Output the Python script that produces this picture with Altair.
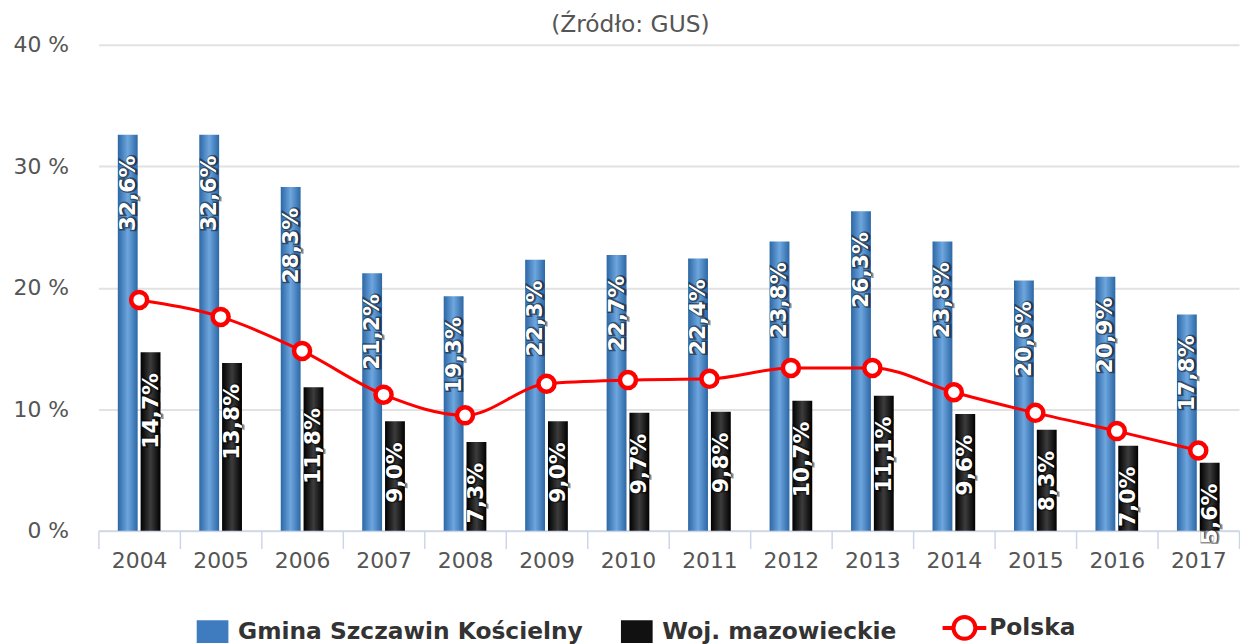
import altair as alt
import pandas as pd

years = [str(y) for y in range(2004, 2018)]
gmina = [32.6, 32.6, 28.3, 21.2, 19.3, 22.3, 22.7, 22.4, 23.8, 26.3, 23.8, 20.6, 20.9, 17.8]
woj = [14.7, 13.8, 11.8, 9.0, 7.3, 9.0, 9.7, 9.8, 10.7, 11.1, 9.6, 8.3, 7.0, 5.6]
polska = [19.0, 17.6, 14.8, 11.2, 9.5, 12.1, 12.4, 12.5, 13.4, 13.4, 11.4, 9.7, 8.2, 6.6]
y_ticks = [0, 10, 20, 30, 40]

S_G = "Gmina Szczawin Kościelny"
S_W = "Woj. mazowieckie"
S_P = "Polska"
series_names = [S_G, S_W, S_P]
series_colors = ["#3f7cbf", "#111111", "#ff0000"]

rows = []
for i, yr in enumerate(years):
    rows.append({"year": yr, "series": S_G, "value": gmina[i]})
    rows.append({"year": yr, "series": S_W, "value": woj[i]})
bars_df = pd.DataFrame(rows)
line_df = pd.DataFrame({"year": years, "series": S_P, "value": polska})

FONT = "DejaVu Sans"

x_enc = alt.X(
    "year:N", sort=years, title=None,
    scale=alt.Scale(paddingInner=0, paddingOuter=0),
    axis=alt.Axis(labelAngle=0, tickBand="extent", grid=False,
                  domainColor="#ccd6eb", tickColor="#ccd6eb", tickSize=18,
                  tickWidth=1.5, domainWidth=1.5, labelPadding=2,
                  labelFont=FONT, labelFontSize=22, labelColor="#555555"),
)
y_enc = alt.Y(
    "value:Q", title=None,
    scale=alt.Scale(domain=[0, 40], nice=False),
    axis=alt.Axis(values=y_ticks, labelExpr="datum.value + ' %'", domain=False,
                  ticks=False, labelPadding=30, grid=True, gridColor="#e2e2e2",
                  gridWidth=2, labelFont=FONT, labelFontSize=22, labelColor="#555555"),
)
xoff = alt.XOffset("series:N", scale=alt.Scale(domain=[S_G, S_W], paddingInner=0.13, paddingOuter=0.85))


def grad(edge, mid):
    return alt.LinearGradient(
        gradient="linear", x1=0, x2=1, y1=0, y2=0,
        stops=[alt.GradientStop(color=edge, offset=0),
               alt.GradientStop(color=mid, offset=0.5),
               alt.GradientStop(color=edge, offset=1)],
    )


base = alt.Chart(bars_df)

blue = base.transform_filter(alt.datum.series == S_G).mark_bar(
    fill=grad("#2c67a5", "#6ea6de")).encode(x=x_enc, y=y_enc, xOffset=xoff)
black = base.transform_filter(alt.datum.series == S_W).mark_bar(
    fill=grad("#000000", "#3c3c3c")).encode(x=x_enc, y=y_enc, xOffset=xoff)

lab = base.transform_calculate(
    label="replace(format(datum.value, '.1f'), '.', ',') + '%'"
)
lab_shadow = lab.mark_text(
    angle=270, align="right", baseline="middle", dx=-21, dy=1,
    font=FONT, fontSize=22, fontWeight="bold", fill="#000000",
    stroke="#000000", strokeWidth=3, strokeOpacity=0.45, fillOpacity=0.6,
).encode(x=x_enc, y=y_enc, xOffset=xoff, text="label:N")
lab_text = lab.mark_text(
    angle=270, align="right", baseline="middle", dx=-21,
    font=FONT, fontSize=22, fontWeight="bold", fill="#ffffff",
).encode(x=x_enc, y=y_enc, xOffset=xoff, text="label:N")

rect_path = "M-0.81,-0.52 L0.64,-0.52 L0.64,0.52 L-0.81,0.52 Z"
pol_path = ("M-1.05,0 L-0.55,0 M0.45,0 L0.95,0 "
            "M-0.55,0 A0.5,0.5 0 1 1 0.45,0 A0.5,0.5 0 1 1 -0.55,0 Z")

legend = alt.Legend(
    title=None, orient="none", legendX=105, legendY=575, direction="horizontal",
    columns=3, columnPadding=37, labelFont=FONT, labelFontSize=23.5,
    labelFontWeight="bold", labelColor="#333333", labelOffset=12, labelLimit=600,
    symbolSize=1936,
    symbolType={"expr": f"datum.value == 'Polska' ? '{pol_path}' : '{rect_path}'"},
    symbolFillColor={"expr": "datum.value == 'Polska' ? '#ffffff' : scale('color', datum.value)"},
    symbolStrokeWidth={"expr": "datum.value == 'Polska' ? 4 : 0"},
    symbolOpacity=1,
)

line = alt.Chart(line_df).mark_line(interpolate="monotone", strokeWidth=3).encode(
    x=x_enc, y=y_enc,
    color=alt.Color("series:N", scale=alt.Scale(domain=series_names, range=series_colors),
                    legend=legend),
)
points = alt.Chart(line_df).mark_point(
    filled=True, fill="#ffffff", stroke="#ff0000", strokeWidth=4.5, size=260, opacity=1
).encode(x=x_enc, y=y_enc)

chart = alt.layer(blue, black, line, points, lab_shadow, lab_text).properties(
    width=1148, height=489,
    title=alt.TitleParams("(Źródło: GUS)", font=FONT, fontSize=23.5, fontWeight="normal",
                          color="#555555", anchor="middle", frame="bounds", offset=-3, dx=4),
    padding={"left": 5, "top": 3, "right": 0, "bottom": 0},
).configure_view(stroke=None)

chart.save("out.html", embed_options={"renderer": "svg", "actions": False})
